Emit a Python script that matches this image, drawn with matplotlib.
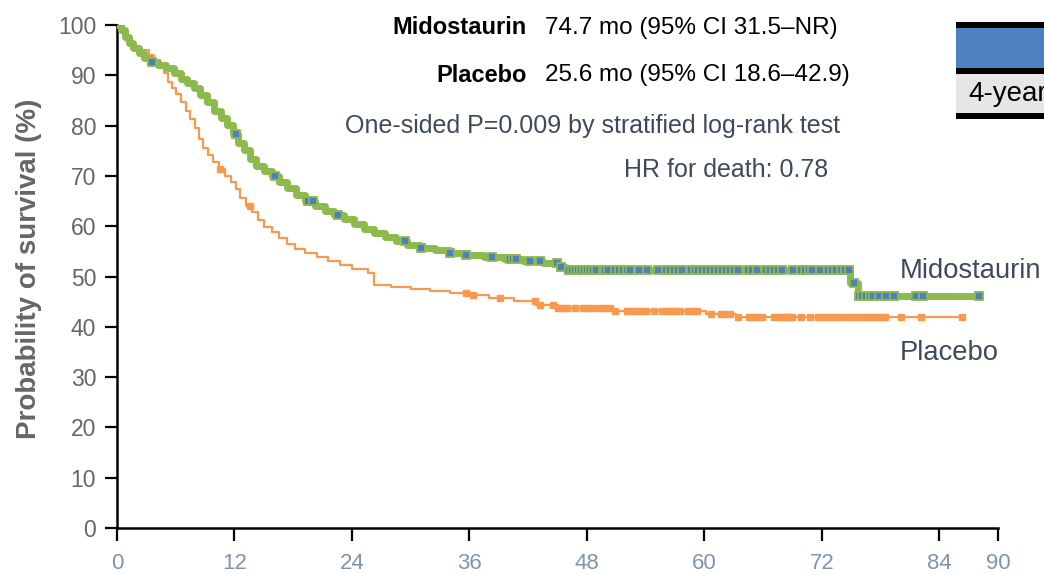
import numpy as np
import matplotlib.pyplot as plt
from matplotlib.patches import Rectangle

plt.rcParams["font.family"] = ["Liberation Sans", "DejaVu Sans"]

# survival curves (months, % surviving), step changes
mido_t = [0, 0.4, 0.8, 1.2, 1.6, 2.2, 2.8, 3.4, 4.2, 5.0, 5.8, 6.5, 7.2, 7.9, 8.5, 9.2,
          9.9, 10.6, 11.2, 11.8, 12.4, 13.0, 13.6, 14.2, 15.0, 15.8, 16.6, 17.4, 18.3,
          19.2, 20.2, 21.2, 22.2, 23.2, 24.2, 25.2, 26.3, 27.4, 28.5, 29.6, 31.0,
          32.5, 34.0, 35.5, 37.5, 39.5, 41.5, 43.5, 45.2, 45.9, 74.9, 75.7]
mido_s = [100, 99, 97.6, 96.4, 95.4, 94.4, 93.5, 92.6, 92.0, 91.4, 90.5, 89.2, 88.4,
          87.4, 86.0, 84.6, 83.0, 81.6, 80.2, 78.4, 76.6, 75.2, 73.4, 72.0, 71.0,
          70.0, 68.8, 67.6, 66.2, 65.0, 64.0, 63.0, 62.2, 61.4, 60.4, 59.4, 58.6,
          57.8, 57.0, 56.2, 55.6, 55.2, 54.6, 54.2, 53.8, 53.4, 53.0, 52.6, 51.9,
          51.3, 48.8, 46.2]
mido_end = 88.1

plac_t = [0, 0.5, 1.0, 1.5, 2.2, 3.3, 3.8, 4.4, 4.8, 5.2, 5.6, 6.0, 6.5, 7.0, 7.5,
          8.0, 8.4, 8.8, 9.3, 9.8, 10.4, 11.0, 11.6, 12.2, 12.6, 13.2, 13.8, 14.4,
          15.0, 15.8, 16.6, 17.4, 18.2, 19.2, 20.4, 21.6, 22.8, 24.0, 25.6, 26.3,
          28.0, 30.0, 32.0, 34.0, 35.8, 38.0, 40.6, 42.8, 45.0, 50.6, 60.2, 63.2]
plac_s = [100, 98.5, 97, 95.8, 95.0, 94.0, 93.0, 92.2, 90.4, 88.6, 87.4, 86.2, 84.6,
          83.0, 81.4, 79.6, 77.4, 75.6, 74.2, 72.8, 71.4, 70.0, 68.8, 67.4, 65.6,
          64.0, 62.8, 61.2, 59.8, 58.8, 57.6, 56.4, 55.4, 54.6, 53.8, 53.0, 52.2,
          51.4, 50.6, 48.4, 47.9, 47.6, 47.2, 46.8, 46.3, 45.8, 45.1, 44.4, 43.8,
          43.2, 42.6, 42.0]
plac_end = 86.3

# censored observations (months)
mido_cens = [3.6, 12.2, 16.1, 19.5, 20.0, 22.6, 29.4, 31.1, 34.0, 35.7, 38.3, 40.1,
             40.5, 40.8, 42.2, 43.2, 44.9, 45.4, 46.2, 46.5, 46.8, 47.1, 47.4, 47.7,
             48.0, 48.3, 48.6, 48.9, 49.6, 49.9, 50.2, 50.9, 51.3, 51.7, 52.1, 52.4,
             53.3, 54.1, 55.3, 56.1, 56.5, 56.9, 57.3, 57.7, 58.6, 59.0, 59.4, 59.8,
             60.2, 60.6, 61.0, 61.4, 61.8, 62.2, 62.6, 63.0, 63.4, 64.5, 64.9, 65.4,
             66.3, 66.7, 67.1, 67.5, 67.9, 69.1, 69.9, 70.3, 70.7, 71.0, 71.8, 72.6,
             73.0, 73.4, 74.0, 74.4, 74.8, 75.3, 75.8, 76.1, 76.5, 76.9, 77.2, 77.8,
             78.6, 79.4, 81.6, 82.3, 88.1]
plac_cens = [10.5, 13.6, 35.7, 36.4, 39.1, 42.7, 43.2, 44.5, 45.0, 45.5, 46.0, 46.8,
             47.6, 48.1, 48.6, 49.3, 49.8, 50.4, 50.9, 52.1, 52.6, 53.1, 53.5, 54.0,
             54.9, 55.7, 56.3, 56.7, 57.1, 57.5, 58.3, 58.8, 59.3, 60.7, 61.7, 62.1,
             62.6, 63.4, 64.6, 65.0, 65.4, 65.9, 67.1, 67.5, 67.9, 68.3, 68.7, 69.0,
             69.9, 70.8, 71.6, 72.0, 72.4, 72.8, 73.4, 73.8, 74.5, 75.0, 75.7, 76.1,
             76.5, 76.9, 77.3, 77.7, 78.1, 78.5, 80.1, 82.1, 86.3]

x_ticks = [0, 12, 24, 36, 48, 60, 72, 84, 90]
y_ticks = list(range(0, 101, 10))

GREEN = "#8cba4c"
BLUE = "#4e7fc1"
ORANGE = "#f7994f"
TXT = "#3e4a5c"

W, H = 1044, 574


def at(t, s, c):
    # survival value of the step curve at time c
    idx = np.searchsorted(t, c, side="right") - 1
    return np.asarray(s)[idx]


fig = plt.figure(figsize=(W / 100, H / 100), dpi=100)
ax = fig.add_axes([117 / W, 1 - 528 / H, (998 - 117) / W, (528 - 25) / H])

# placebo
ax.step(np.append(plac_t, plac_end), np.append(plac_s, plac_s[-1]), where="post",
        color=ORANGE, lw=1.6, zorder=2)
ax.plot(plac_cens, at(plac_t, plac_s, plac_cens), "s", ms=4.2, color=ORANGE,
        mec=ORANGE, zorder=2)

# midostaurin
ax.step(np.append(mido_t, mido_end), np.append(mido_s, mido_s[-1]), where="post",
        color=GREEN, lw=5, zorder=3)
ax.plot(mido_cens, at(mido_t, mido_s, mido_cens), "s", ms=5.2, mfc=BLUE, mec=GREEN,
        mew=1.3, zorder=4)

ax.set_xlim(0, 90)
ax.set_ylim(0, 100)
for side in ["top", "right"]:
    ax.spines[side].set_visible(False)
for side in ["left", "bottom"]:
    ax.spines[side].set_linewidth(1.8)
ax.set_xticks(x_ticks)
ax.set_yticks(y_ticks)
ax.tick_params(length=9, width=1.6)
ax.tick_params(axis="y", labelsize=16.5, labelcolor="#666666", pad=6)
ax.tick_params(axis="x", labelsize=16, labelcolor="#7f94b0", pad=9)
ax.set_ylabel("Probability of survival (%)", fontsize=20, fontweight="bold",
              color="#666666")
ax.yaxis.set_label_coords(-0.085, 0.515)


# annotations (figure pixel positions)
def ftext(x, y, s, **kw):
    fig.text(x / W, 1 - y / H, s, va="center", **kw)


ftext(527, 28, "Midostaurin", ha="right", fontsize=17, fontweight="bold", color="black")
ftext(545, 28, "74.7 mo (95% CI 31.5\u2013NR)", ha="left", fontsize=17.5, color="black")
ftext(527, 75, "Placebo", ha="right", fontsize=17, fontweight="bold", color="black")
ftext(545, 75, "25.6 mo (95% CI 18.6\u201342.9)", ha="left", fontsize=17.5, color="black")
ftext(840, 126, "One-sided P=0.009 by stratified log-rank test", ha="right",
      fontsize=18, color=TXT)
ftext(828, 170, "HR for death: 0.78", ha="right", fontsize=18, color=TXT)
ftext(900, 271, "Midostaurin", ha="left", fontsize=19.7, color=TXT)
ftext(900, 353, "Placebo", ha="left", fontsize=19.7, color=TXT)


# clipped table fragment at top right
def fbox(y0, y1, color):
    fig.patches.append(Rectangle((956 / W, 1 - y1 / H), (W - 956) / W, (y1 - y0) / H,
                                 transform=fig.transFigure, color=color, lw=0))


fbox(22, 28, "black")
fbox(28, 68, BLUE)
fbox(68, 74, "black")
fbox(74, 113, "#e6e6e6")
fbox(113, 119, "black")
ftext(968, 94, "4-year", ha="left", fontsize=20, color="black")

fig.savefig("out.png", dpi=100)
